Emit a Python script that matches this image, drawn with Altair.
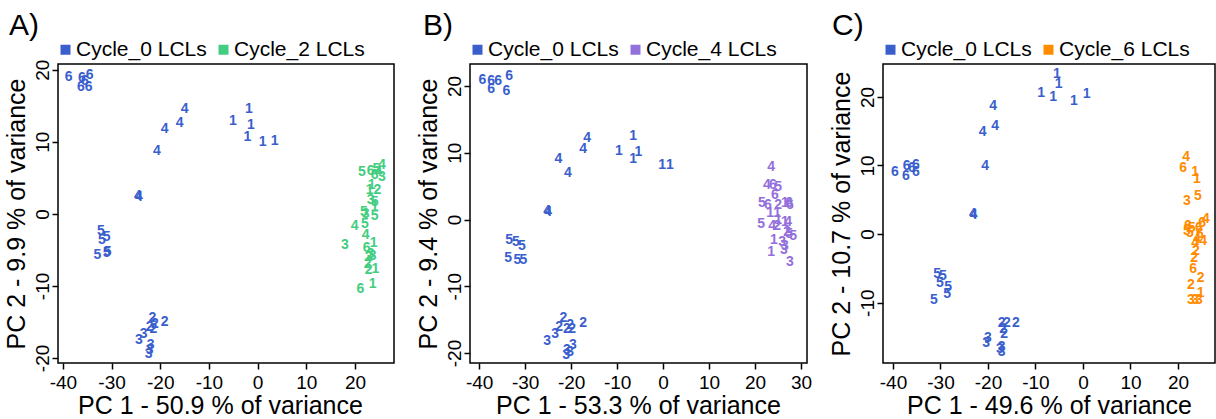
import altair as alt
import pandas as pd

FONT = "Liberation Sans"
BLUE = "#3A5FCD"
GREEN = "#43CD80"
PURPLE = "#9370DB"
ORANGE = "#FF8C00"

# ---------------- Panel A ----------------
a0_lab = ["6","6","6","6","6","6","4","4","4","4","4","4","1","1","1","1","1","1",
          "5","5","5","5","5","5","2","2","2","2","2","3","3","3","3","3"]
a0_x = [-38.8,-36.1,-34.5,-35.5,-36.3,-34.7,-15.0,-16.0,-19.1,-20.7,-24.6,-24.4,
        -1.8,-5.1,-1.4,-2.1,1.0,3.5,-32.2,-31.0,-32.0,-32.9,-31.0,-30.8,
        -21.6,-19.1,-21.1,-21.4,-22.2,-23.4,-24.4,-22.0,-22.2,-22.4]
a0_y = [19.0,18.9,19.3,18.5,17.6,17.6,14.6,12.6,11.8,8.75,2.5,2.4,
        14.6,12.9,12.4,10.6,10.0,10.1,-2.4,-3.2,-3.6,-5.7,-5.5,-5.3,
        -14.4,-15.0,-15.3,-16.0,-15.7,-16.7,-17.5,-18.2,-18.9,-19.4]
a1_lab = ["5","6","4","4","6","3","5","1","1","2","3","5","1","5","3","5","4","5",
          "4","3","1","6","3","2","3","2","2","1","6","1"]
a1_x = [21.4,23.2,25.5,24.8,24.0,25.5,24.4,23.4,23.0,24.6,23.2,24.0,24.0,21.8,22.2,
        24.0,19.9,22.0,22.2,17.9,23.8,22.4,23.2,22.8,23.6,22.6,22.8,24.2,21.1,23.6]
a1_y = [5.8,6.0,6.8,5.8,5.4,5.1,6.2,4.0,3.3,3.3,1.9,1.7,1.0,0.3,0.0,
        -0.3,-1.7,-1.4,-2.9,-4.3,-4.0,-4.7,-5.6,-6.0,-5.8,-6.9,-7.8,-7.6,-10.4,-9.7]

# ---------------- Panel B ----------------
b0_lab = ["6","6","6","6","6","6","4","4","4","4","4","4","1","1","1","1","1","1",
          "5","5","5","5","5","5","2","2","2","2","2","2","3","3","3","3","3","3"]
b0_x = [-39.3,-37.4,-35.9,-33.5,-37.4,-34.1,-16.5,-17.4,-22.8,-20.7,-25.2,-25.0,
        -6.5,-9.6,-5.4,-6.5,-0.2,1.5,-33.5,-32.0,-30.7,-33.7,-31.7,-30.4,
        -21.7,-17.4,-20.2,-22.6,-20.9,-19.8,-23.5,-25.2,-19.6,-20.9,-20.2,-21.1]
b0_y = [20.9,20.7,20.7,21.5,19.6,19.3,12.2,10.6,9.1,6.9,1.2,1.1,
        12.5,10.3,10.1,9.0,8.1,8.1,-3.0,-3.4,-3.9,-5.8,-6.1,-6.1,
        -14.8,-15.5,-15.8,-16.1,-16.4,-16.4,-17.2,-18.2,-18.8,-19.6,-19.9,-20.3]
b1_lab = ["4","4","6","5","6","5","6","2","1","6","6","1","1","5","4","2","1","1",
          "4","2","5","5","1","3","3","3","1","3"]
b1_x = [23.5,22.6,23.9,25.0,24.3,21.5,22.8,25.0,26.5,27.4,27.6,23.3,24.8,21.3,23.7,
        24.8,25.0,26.5,27.2,27.0,27.4,28.3,24.1,25.9,26.5,26.3,23.5,27.6]
b1_y = [7.9,5.2,5.2,4.9,3.6,2.5,2.2,2.1,2.5,2.5,2.1,1.0,1.0,-0.6,-0.9,
        -0.9,-0.1,-0.4,-0.4,-1.8,-2.1,-2.4,-3.0,-3.3,-4.0,-4.6,-4.9,-6.3]

# ---------------- Panel C ----------------
c0_lab = ["1","1","1","1","1","1","4","4","4","4","4","4","6","6","6","6","6","6",
          "5","5","5","5","5","5","2","2","2","2","2","3","3","3","3","3"]
c0_x = [-5.5,-5.1,-8.8,-6.3,-1.9,0.8,-18.9,-18.5,-21.1,-20.6,-23.2,-23.0,
        -39.6,-37.1,-35.2,-37.3,-35.2,-36.0,-30.7,-29.5,-30.1,-28.4,-28.6,-31.4,
        -17.1,-16.0,-14.1,-16.8,-16.6,-20.0,-20.4,-17.1,-17.5,-17.1]
c0_y = [23.3,21.9,20.6,20.0,19.4,20.4,18.7,15.7,14.9,9.9,2.9,2.8,
        9.1,9.9,10.1,8.4,9.0,9.6,-5.8,-6.1,-7.2,-7.7,-8.7,-9.6,
        -12.9,-13.0,-13.0,-13.9,-14.5,-15.1,-15.9,-16.4,-16.8,-17.2]
c1_lab = ["4","6","1","1","5","3","4","6","6","5","5","5","6","6","4","4","4","2",
          "2","6","2","2","1","3","3","3"]
c1_x = [21.7,21.1,23.6,24.0,24.2,21.9,25.9,25.1,22.1,22.9,21.9,22.5,24.4,24.6,24.0,
        25.3,23.6,23.8,23.4,23.2,24.8,22.7,24.8,22.7,23.6,24.4]
c1_y = [11.3,9.6,9.0,8.0,5.5,4.8,2.2,1.6,1.2,0.9,0.4,0.1,0.9,0.0,-0.7,
        -1.0,-1.3,-2.5,-3.5,-5.1,-6.4,-7.4,-8.6,-9.6,-9.6,-9.6]

TICKS_X = [-40, -30, -20, -10, 0, 10, 20, 30]
TICKS_Y = [-20, -10, 0, 10, 20]


def make(tag, tag_dx, groups, colors, xdom, ydom, width, height, xtitle, ytitle, title_x):
    frames = []
    for name, lab, xs, ys in groups:
        frames.append(pd.DataFrame({"x": xs, "y": ys, "label": lab, "group": name}))
    df = pd.concat(frames, ignore_index=True)
    names = [g[0] for g in groups]
    xvals = [v for v in TICKS_X if xdom[0] <= v <= xdom[1]]
    yvals = [v for v in TICKS_Y if ydom[0] <= v <= ydom[1]]
    pts = alt.Chart(df).mark_text(font=FONT, fontSize=14, fontWeight="bold",
                                  align="center", baseline="middle").encode(
        x=alt.X("x:Q", scale=alt.Scale(domain=xdom, nice=False, zero=False),
                axis=alt.Axis(values=xvals, title=xtitle, labelExpr="'' + datum.value",
                              titlePadding=1, labelPadding=4, titleX=title_x)),
        y=alt.Y("y:Q", scale=alt.Scale(domain=ydom, nice=False, zero=False),
                axis=alt.Axis(values=yvals, title=ytitle, labelExpr="'' + datum.value",
                              labelAngle=-90, labelAlign="center", labelBaseline="alphabetic",
                              labelPadding=4, titlePadding=4)),
        text="label:N",
        color=alt.Color("group:N", scale=alt.Scale(domain=names, range=colors),
                        legend=alt.Legend(orient="none", legendX=-3, legendY=-25,
                                          direction="horizontal", title=None,
                                          symbolType="square", symbolSize=100,
                                          symbolStrokeWidth=0, labelFont=FONT,
                                          labelFontSize=21, labelColor="black",
                                          columnPadding=6, labelOffset=0, padding=0)),
    )
    lab = alt.Chart(pd.DataFrame({"t": [tag]})).mark_text(
        font=FONT, fontSize=30, align="left", baseline="alphabetic", color="black"
    ).encode(text="t:N", x=alt.value(tag_dx), y=alt.value(-29))
    return alt.layer(pts, lab).properties(width=width, height=height)


pA = make("A)", -49,
          [("Cycle_0 LCLs", a0_lab, a0_x, a0_y), ("Cycle_2 LCLs", a1_lab, a1_x, a1_y)],
          [BLUE, GREEN], [-41, 28], [-20.7, 20.8], 336, 299,
          "PC 1 - 50.9 % of variance", "PC 2 - 9.9 % of variance", 162)
pB = make("B)", -47,
          [("Cycle_0 LCLs", b0_lab, b0_x, b0_y), ("Cycle_4 LCLs", b1_lab, b1_x, b1_y)],
          [BLUE, PURPLE], [-42, 31.3], [-21.5, 23.3], 337, 299,
          "PC 1 - 53.3 % of variance", "PC 2 - 9.4 % of variance", 168)
pC = make("C)", -51,
          [("Cycle_0 LCLs", c0_lab, c0_x, c0_y), ("Cycle_6 LCLs", c1_lab, c1_x, c1_y)],
          [BLUE, ORANGE], [-42.1, 27.8], [-18.8, 24.8], 332, 299,
          "PC 1 - 49.6 % of variance", "PC 2 - 10.7 % of variance", 166)

chart = alt.hconcat(pA, pB, pC, spacing=76, bounds="flush").resolve_scale(
    color="independent", x="independent", y="independent"
).resolve_legend(color="independent").properties(
    padding={"left": 3, "top": 10, "right": 0, "bottom": 0},
    background="white",
).configure_view(stroke="black", strokeWidth=1.5).configure_axis(
    labelFont=FONT, titleFont=FONT, labelFontSize=19, titleFontSize=25,
    titleFontWeight="normal", labelColor="black", titleColor="black",
    tickColor="black", tickWidth=1.5, tickSize=6, domain=False, grid=False,
)

chart.save("out.html", embed_options={"renderer": "svg", "actions": False})
